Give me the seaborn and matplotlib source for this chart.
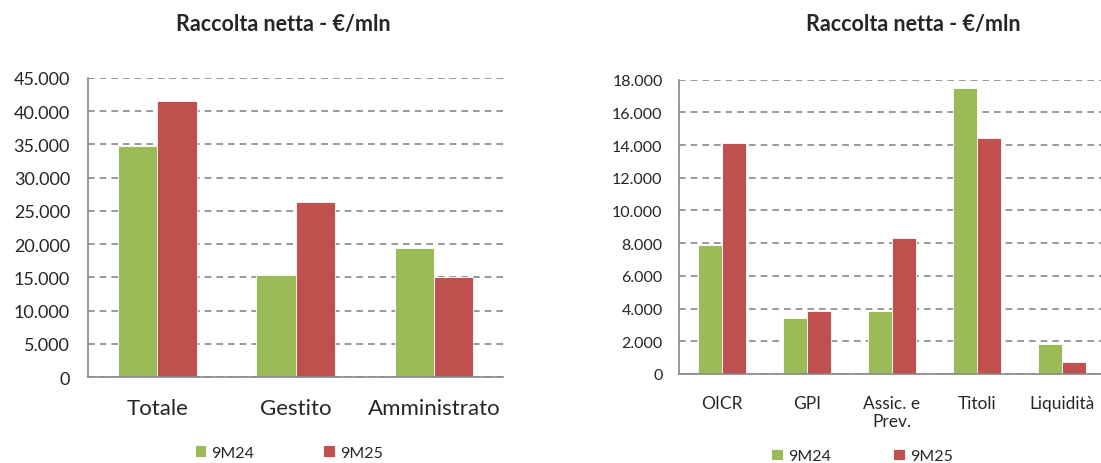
import pandas as pd
import seaborn as sns
import matplotlib.pyplot as plt
from matplotlib.ticker import FuncFormatter, FixedLocator

# dati - raccolta netta €/mln
periodi = ["9M24", "9M25"]
cat_sx = ["Totale", "Gestito", "Amministrato"]
sx_9m24 = [34700, 15300, 19400]
sx_9m25 = [41500, 26300, 15100]

cat_dx = ["OICR", "GPI", "Assic. e\nPrev.", "Titoli", "Liquidità"]
dx_9m24 = [7900, 3450, 3850, 17500, 1850]
dx_9m25 = [14100, 3850, 8300, 14450, 700]

colori = ["#9BBB59", "#C0504D"]

sns.set_style("white")
plt.rcParams["font.family"] = ["Lato", "DejaVu Sans"]


def tidy(cats, a, b):
    return pd.DataFrame({
        "cat": cats * 2,
        "periodo": [periodi[0]] * len(cats) + [periodi[1]] * len(cats),
        "valore": a + b,
    })


def fmt(v, pos):
    return f"{int(v):,}".replace(",", ".")


def disegna(ax, df, ymax, step, fs_tick, fs_y, xpad, ypad, leg_x, leg_y, colsp):
    sns.barplot(data=df, x="cat", y="valore", hue="periodo", palette=colori,
                width=0.57, gap=0, ax=ax, saturation=1, edgecolor="white", linewidth=0.6)
    n = df["cat"].nunique()
    ax.set_xlim(-0.5, n - 0.5)
    ax.set_ylim(0, ymax)
    ax.set_yticks(range(0, ymax + 1, step))
    ax.yaxis.set_major_formatter(FuncFormatter(fmt))
    ax.yaxis.grid(True, linestyle=(0, (4, 3)), color="#888888", linewidth=1.2)
    ax.set_axisbelow(True)
    for s in ["top", "right"]:
        ax.spines[s].set_visible(False)
    for s in ["left", "bottom"]:
        ax.spines[s].set_color("#888888")
        ax.spines[s].set_linewidth(1.2)
    ax.tick_params(axis="x", which="major", length=0, labelsize=fs_tick, pad=xpad)
    ax.xaxis.set_minor_locator(FixedLocator([i - 0.5 for i in range(n + 1)]))
    ax.tick_params(axis="x", which="minor", length=6, width=1.2, color="#888888", direction="out")
    ax.tick_params(axis="y", length=5, width=1.2, color="#888888", labelsize=fs_y, pad=ypad)
    ax.set_xlabel("")
    ax.set_ylabel("")
    ax.legend(title=None, loc="upper center", bbox_to_anchor=(leg_x, leg_y), ncol=2,
              frameon=False, fontsize=11.5, handlelength=0.75, handleheight=0.75,
              handletextpad=0.3, columnspacing=colsp)


fig = plt.figure(figsize=(11.01, 4.64), dpi=100)
ax1 = fig.add_axes([0.080, 0.185, 0.377, 0.645])
ax2 = fig.add_axes([0.617, 0.192, 0.386, 0.634])

disegna(ax1, tidy(cat_sx, sx_9m24, sx_9m25), 45000, 5000, 16, 13, 15, 8, 0.483, -0.18, 4.3)
disegna(ax2, tidy(cat_dx, dx_9m24, dx_9m25), 18000, 2000, 12.5, 11.5, 15, 7, 0.43, -0.205, 3.9)

fig.text(283 / 1101, 1 - 25 / 464, "Raccolta netta - €/mln", fontsize=15.5,
         fontweight="bold", ha="center", va="center")
fig.text(913 / 1101, 1 - 25 / 464, "Raccolta netta - €/mln", fontsize=15.5,
         fontweight="bold", ha="center", va="center")

fig.savefig("out.png", dpi=100)
